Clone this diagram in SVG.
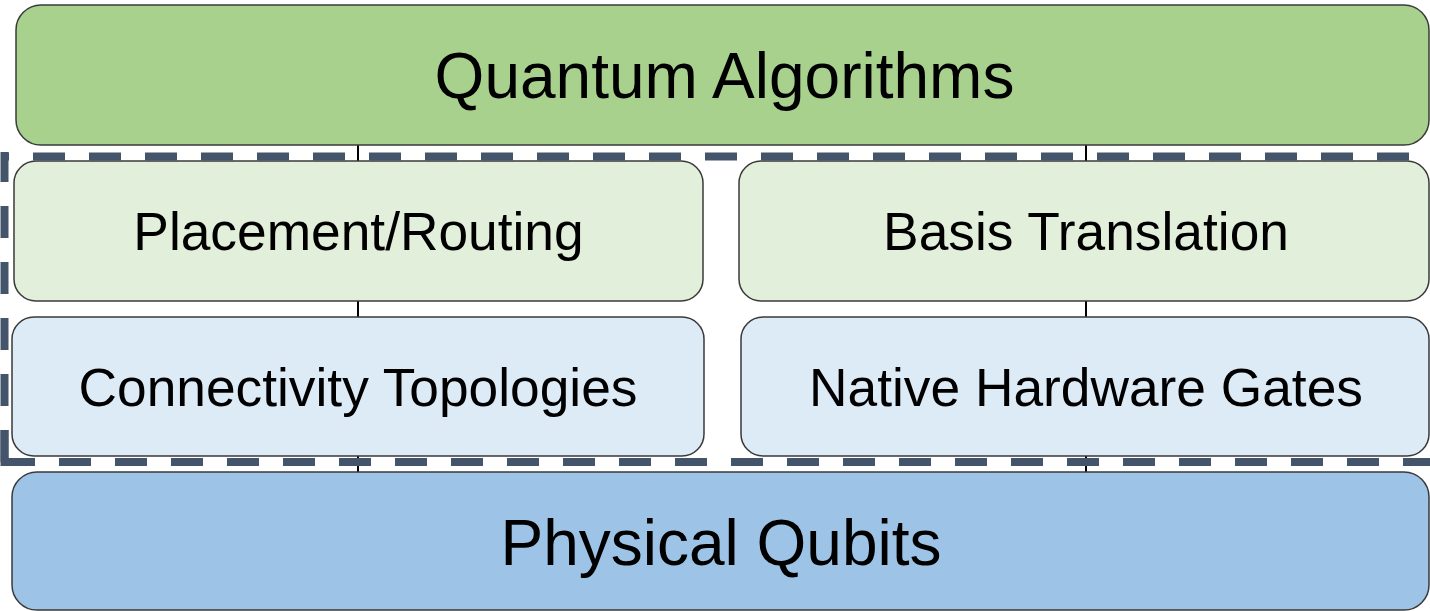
<svg xmlns="http://www.w3.org/2000/svg" width="1430" height="611" viewBox="0 0 1430 611">
<style>
.box{stroke:#3a3a3a;stroke-width:1.5}
.lbl{font-family:"Liberation Sans",Arial,sans-serif;fill:#000;text-anchor:middle}
.big{font-size:64px}
.mid{font-size:53.3px}
.dash{stroke:#44546A;stroke-width:8;fill:none;stroke-dasharray:32 24}
.conn{stroke:#000;stroke-width:2;fill:none}
</style>
<rect width="1430" height="611" fill="#fff"/>
<g id="connectors">
<line class="conn" x1="358" y1="145" x2="358" y2="472"/>
<line class="conn" x1="1086" y1="145" x2="1086" y2="472"/>
</g>
<g id="quantum-algorithms">
<rect class="box" x="16" y="5" width="1413" height="140" rx="25" fill="#A9D18E"/>
<text class="lbl big" x="724.5" y="98">Quantum Algorithms</text>
</g>
<g id="placement-routing">
<rect class="box" x="14" y="161" width="689" height="140" rx="22" fill="#E2EFDA"/>
<text class="lbl mid" x="358.5" y="250">Placement/Routing</text>
</g>
<g id="basis-translation">
<rect class="box" x="739" y="161" width="690" height="140" rx="22" fill="#E2EFDA"/>
<text class="lbl mid" x="1086" y="250">Basis Translation</text>
</g>
<g id="connectivity-topologies">
<rect class="box" x="12" y="317" width="692" height="139" rx="22" fill="#DDEBF7"/>
<text class="lbl mid" x="358" y="406">Connectivity Topologies</text>
</g>
<g id="native-hardware-gates">
<rect class="box" x="741" y="317" width="688" height="139" rx="22" fill="#DDEBF7"/>
<text class="lbl mid" x="1086" y="406">Native Hardware Gates</text>
</g>
<g id="physical-qubits">
<rect class="box" x="12" y="472" width="1417" height="138" rx="25" fill="#9DC3E6"/>
<text class="lbl big" x="721" y="565">Physical Qubits</text>
</g>
<g id="dashed-boundary">
<line class="dash" x1="1" y1="156.5" x2="1430" y2="156.5" stroke-dashoffset="24"/>
<line class="dash" x1="4.5" y1="152" x2="4.5" y2="466" stroke-dashoffset="2"/>
<line class="dash" x1="3" y1="462" x2="1430" y2="462"/>
<rect x="0.5" y="430" width="8" height="36" fill="#44546A"/>
</g>
</svg>
